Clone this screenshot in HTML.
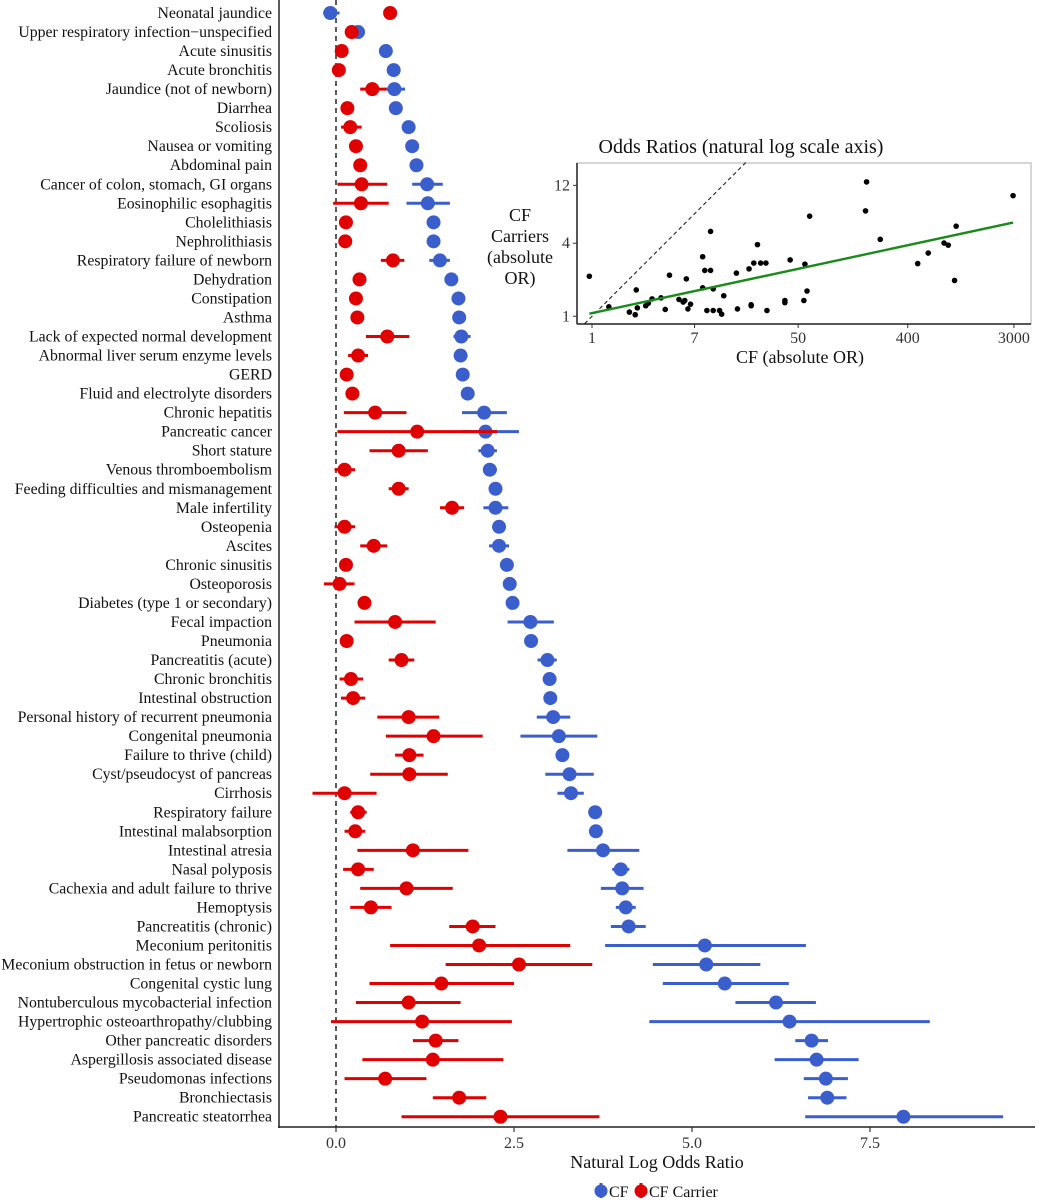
<!DOCTYPE html>
<html><head><meta charset="utf-8"><style>
body{margin:0;background:#fff}
svg{display:block;font-family:"Liberation Serif",serif}
</style></head><body>
<svg id="chart" width="1039" height="1200" viewBox="0 0 1039 1200" xmlns="http://www.w3.org/2000/svg">
<rect x="0" y="0" width="1039" height="1200" fill="#fff"/>
<g id="main"></g>
<g id="inset"></g>
<g id="legend"></g>
</svg>
<script>
const categories=["Neonatal jaundice","Upper respiratory infection\u2212unspecified","Acute sinusitis","Acute bronchitis","Jaundice (not of newborn)","Diarrhea","Scoliosis","Nausea or vomiting","Abdominal pain","Cancer of colon, stomach, GI organs","Eosinophilic esophagitis","Cholelithiasis","Nephrolithiasis","Respiratory failure of newborn","Dehydration","Constipation","Asthma","Lack of expected normal development","Abnormal liver serum enzyme levels","GERD","Fluid and electrolyte disorders","Chronic hepatitis","Pancreatic cancer","Short stature","Venous thromboembolism","Feeding difficulties and mismanagement","Male infertility","Osteopenia","Ascites","Chronic sinusitis","Osteoporosis","Diabetes (type 1 or secondary)","Fecal impaction","Pneumonia","Pancreatitis (acute)","Chronic bronchitis","Intestinal obstruction","Personal history of recurrent pneumonia","Congenital pneumonia","Failure to thrive (child)","Cyst/pseudocyst of pancreas","Cirrhosis","Respiratory failure","Intestinal malabsorption","Intestinal atresia","Nasal polyposis","Cachexia and adult failure to thrive","Hemoptysis","Pancreatitis (chronic)","Meconium peritonitis","Meconium obstruction in fetus or newborn","Congenital cystic lung","Nontuberculous mycobacterial infection","Hypertrophic osteoarthropathy/clubbing","Other pancreatic disorders","Aspergillosis associated disease","Pseudomonas infections","Bronchiectasis","Pancreatic steatorrhea"];
const cfEst=[-0.08,0.31,0.70,0.81,0.82,0.84,1.02,1.07,1.13,1.28,1.29,1.37,1.37,1.46,1.62,1.72,1.73,1.76,1.75,1.78,1.85,2.08,2.10,2.13,2.16,2.24,2.24,2.29,2.29,2.40,2.44,2.48,2.73,2.74,2.97,3.00,3.01,3.05,3.13,3.18,3.28,3.30,3.64,3.65,3.75,4.00,4.02,4.07,4.11,5.18,5.20,5.46,6.18,6.37,6.68,6.75,6.88,6.90,7.97];
const cfLo=[-0.18,0.31,0.70,0.81,0.71,0.84,0.96,1.07,1.13,1.07,0.99,1.37,1.37,1.31,1.62,1.72,1.73,1.65,1.67,1.78,1.85,1.77,1.77,2.00,2.09,2.24,2.07,2.29,2.15,2.40,2.44,2.48,2.41,2.74,2.83,3.00,3.01,2.82,2.59,3.10,2.94,3.11,3.64,3.65,3.25,3.88,3.72,3.93,3.86,3.78,4.45,4.59,5.61,4.40,6.45,6.16,6.57,6.63,6.59];
const cfHi=[0.05,0.31,0.70,0.81,0.97,0.84,1.09,1.07,1.13,1.50,1.60,1.37,1.37,1.60,1.62,1.72,1.73,1.89,1.84,1.78,1.85,2.40,2.57,2.26,2.26,2.24,2.42,2.29,2.43,2.40,2.44,2.48,3.06,2.74,3.10,3.00,3.01,3.29,3.67,3.26,3.62,3.48,3.64,3.65,4.26,4.12,4.32,4.21,4.35,6.60,5.96,6.36,6.74,8.34,6.91,7.34,7.19,7.17,9.37];
const carEst=[0.76,0.22,0.08,0.04,0.51,0.16,0.20,0.28,0.34,0.36,0.35,0.14,0.13,0.80,0.33,0.28,0.30,0.72,0.31,0.15,0.23,0.55,1.14,0.88,0.12,0.88,1.63,0.12,0.53,0.14,0.05,0.40,0.83,0.15,0.92,0.21,0.24,1.02,1.37,1.03,1.03,0.12,0.31,0.27,1.08,0.31,0.99,0.49,1.92,2.01,2.57,1.48,1.02,1.21,1.40,1.36,0.69,1.73,2.31];
const carLo=[0.76,0.22,0.08,0.04,0.34,0.16,0.07,0.28,0.34,0.02,-0.04,0.14,0.13,0.63,0.33,0.28,0.30,0.42,0.17,0.15,0.23,0.11,0.02,0.47,-0.02,0.74,1.46,-0.02,0.34,0.14,-0.17,0.40,0.26,0.15,0.74,0.05,0.07,0.58,0.70,0.83,0.48,-0.33,0.20,0.12,0.30,0.10,0.34,0.20,1.59,0.76,1.54,0.47,0.28,-0.07,1.08,0.37,0.12,1.36,0.92];
const carHi=[0.76,0.22,0.08,0.04,0.71,0.16,0.36,0.28,0.34,0.72,0.74,0.14,0.13,0.96,0.33,0.28,0.30,1.03,0.45,0.15,0.23,0.99,2.26,1.29,0.27,1.02,1.80,0.27,0.72,0.14,0.26,0.40,1.40,0.15,1.10,0.38,0.41,1.45,2.06,1.23,1.57,0.57,0.43,0.41,1.86,0.53,1.64,0.78,2.24,3.29,3.60,2.50,1.75,2.47,1.72,2.35,1.27,2.11,3.70];
const xTicks=[0,2.5,5,7.5];
const xTickLabels=["0.0","2.5","5.0","7.5"];
// inset (natural-log values)
const insetLnCF=[-0.05,0.32,0.71,0.82,0.86,0.84,1.02,1.07,1.14,1.31,1.39,1.47,1.65,1.73,1.76,1.79,1.82,1.87,2.10,2.10,2.14,2.18,2.25,2.25,2.30,2.30,2.42,2.46,2.50,2.74,2.76,2.98,3.02,3.02,3.07,3.14,3.20,3.30,3.32,3.66,3.66,3.76,4.02,4.04,4.08,4.13,5.19,5.21,5.47,6.18,6.38,6.68,6.76,6.88,6.91,7.99];
const insetLnCarrier=[0.76,0.18,0.08,0.03,0.16,0.50,0.20,0.25,0.33,0.35,0.13,0.78,0.32,0.27,0.30,0.71,0.14,0.23,0.54,1.13,0.87,0.11,0.87,1.61,0.11,0.52,0.11,0.04,0.39,0.82,0.14,0.90,0.22,0.20,1.01,1.36,1.01,1.01,0.11,0.30,0.26,1.07,0.30,0.99,0.48,1.90,2.00,2.55,1.46,1.00,1.20,1.39,1.35,0.68,1.71,2.29];
const insetXTicks=[1,7,50,400,3000];
const insetYTicks=[1,4,12];
const fitIntercept=0.06, fitSlope=0.215, fitRange=[-0.05,7.99];

const NS="http://www.w3.org/2000/svg";
function mk(tag,attrs,parent,text){const e=document.createElementNS(NS,tag);for(const k in attrs)e.setAttribute(k,attrs[k]);if(text!==undefined)e.textContent=text;parent.appendChild(e);return e;}

const X0=336, XS=71.2, Y0=13, YS=19.03;
const xs=v=>X0+v*XS, ys=i=>Y0+i*YS;
const main=document.getElementById('main');
let e;
e=mk('line',{x1:xs(0),x2:xs(0),y1:0,y2:1127,stroke:'#333','stroke-width':1.6,'stroke-dasharray':'5,4'},main);


e=mk('line',{x1:279,x2:279,y1:0,y2:1128,stroke:'#222','stroke-width':1.5},main);


e=mk('line',{x1:278,x2:1035,y1:1127,y2:1127,stroke:'#222','stroke-width':1.5},main);


xTicks.forEach((t,k)=>{
  e=mk('line',{x1:xs(t),x2:xs(t),y1:1127,y2:1132,stroke:'#333','stroke-width':1.2},main);
  
  
  e=mk('text',{x:xs(t),y:1148,'text-anchor':'middle','font-size':16,fill:'#333'},main,xTickLabels[k]);
  
  
});
e=mk('text',{x:657,y:1168,'text-anchor':'middle','font-size':18,fill:'#111'},main,'Natural Log Odds Ratio');


const BLUE='#3a5fcd', RED='#e00000';
categories.forEach((c,i)=>{
  const y=ys(i);
  e=mk('text',{x:272,y:y+5,'text-anchor':'end','font-size':15.8,fill:'#111'},main,c);
  
  
  e=mk('line',{x1:xs(cfLo[i]),x2:xs(cfHi[i]),y1:y,y2:y,stroke:BLUE,'stroke-width':3},main);
  
  
  e=mk('circle',{cx:xs(cfEst[i]),cy:y,r:7,fill:BLUE},main);
  
  
  e=mk('line',{x1:xs(carLo[i]),x2:xs(carHi[i]),y1:y,y2:y,stroke:RED,'stroke-width':3},main);
  
  
  e=mk('circle',{cx:xs(carEst[i]),cy:y,r:7,fill:RED},main);
  
  
});

const inset=document.getElementById('inset');
const IX0=592, IXS=52.7, IY0=316.3, IYS=52.7;
const ix=v=>IX0+v*IXS, iy=v=>IY0-v*IYS;
const PL=577, PR=1031, PT=163, PB=324;
e=mk('rect',{x:PL,y:PT,width:PR-PL,height:PB-PT,fill:'#fff',stroke:'#bbb','stroke-width':1.2},inset);


e=mk('line',{x1:PL,x2:PL,y1:PT,y2:PB,stroke:'#222','stroke-width':1.5},inset);


e=mk('line',{x1:PL,x2:PR,y1:PB,y2:PB,stroke:'#222','stroke-width':1.5},inset);


const dLo=-0.14, dHi=2.92;
e=mk('line',{x1:ix(dLo),y1:iy(dLo),x2:ix(dHi),y2:iy(dHi),stroke:'#222','stroke-width':1.1,'stroke-dasharray':'4,3'},inset);


insetLnCF.forEach((v,k)=>{
  e=mk('circle',{cx:ix(v),cy:iy(insetLnCarrier[k]),r:2.8,fill:'#000'},inset);
  
  
});
e=mk('line',{x1:ix(fitRange[0]),y1:iy(fitIntercept+fitSlope*fitRange[0]),x2:ix(fitRange[1]),y2:iy(fitIntercept+fitSlope*fitRange[1]),stroke:'#1a8a1a','stroke-width':2.4},inset);


insetXTicks.forEach(t=>{
  const x=ix(Math.log(t));
  e=mk('line',{x1:x,x2:x,y1:PB,y2:PB+4,stroke:'#333'},inset);
  
  
  e=mk('text',{x:x,y:PB+19,'text-anchor':'middle','font-size':16,fill:'#333'},inset,String(t));
  
  
});
insetYTicks.forEach(t=>{
  const y=iy(Math.log(t));
  e=mk('line',{x1:PL-4,x2:PL,y1:y,y2:y,stroke:'#333'},inset);
  
  
  e=mk('text',{x:PL-7,y:y+5,'text-anchor':'end','font-size':16,fill:'#333'},inset,String(t));
  
  
});
e=mk('text',{x:741,y:153,'text-anchor':'middle','font-size':20,fill:'#111'},inset,'Odds Ratios (natural log scale axis)');


e=mk('text',{x:800,y:363,'text-anchor':'middle','font-size':18,fill:'#111'},inset,'CF (absolute OR)');


["CF","Carriers","(absolute","OR)"].forEach((s,k)=>{
  e=mk('text',{x:520,y:221+k*21,'text-anchor':'middle','font-size':18,fill:'#111'},inset,s);
  
  
});

const lg=document.getElementById('legend');
[[601,BLUE,"CF",609],[641,RED,"CF Carrier",649]].forEach(d=>{
  e=mk('line',{x1:d[0],x2:d[0],y1:1183,y2:1198,stroke:d[1],'stroke-width':3},lg);
  
  
  e=mk('circle',{cx:d[0],cy:1191,r:6.5,fill:d[1]},lg);
  
  
  e=mk('text',{x:d[3],y:1197,'font-size':16,fill:'#111'},lg,d[2]);
  
  
});
</script>
</body></html>
